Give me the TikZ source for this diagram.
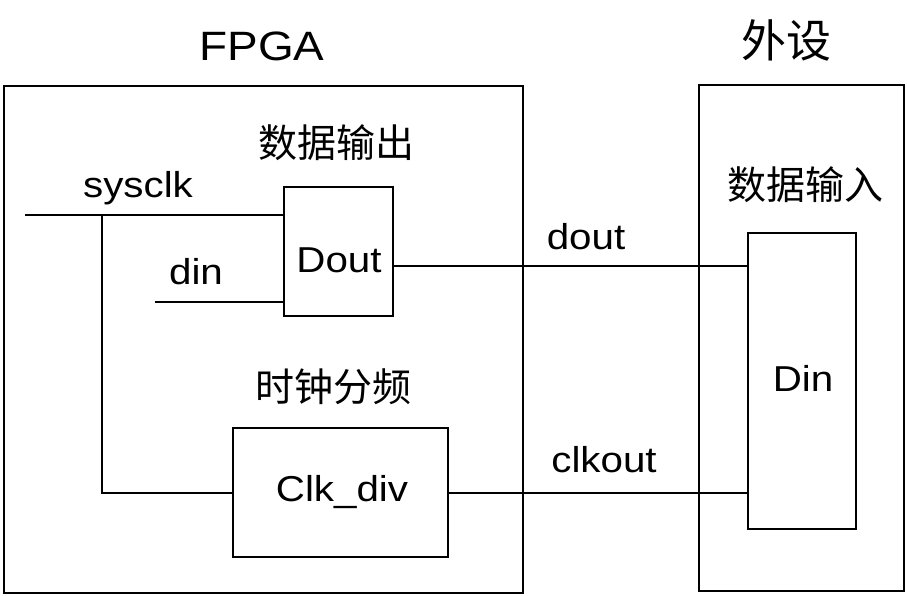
\documentclass[tikz,border=0pt]{standalone}
\usepackage{fontspec}
\setmainfont{Liberation Sans}[FakeStretch=1.12]
\newfontfamily\cjk{Noto Sans CJK SC}
\usetikzlibrary{positioning}

\begin{document}
\begin{tikzpicture}[x=1pt,y=-1pt,line width=2pt,
    blk/.style={draw,inner sep=0pt,anchor=north west},
    sig/.style={font=\fontsize{36}{40}\selectfont,inner sep=0pt},
    hz/.style={font=\cjk\fontsize{39}{44}\selectfont,inner sep=0pt}]
      \useasboundingbox (0,0) rectangle (907,595);
      % boxes
      \node[blk,minimum width=519,minimum height=507] (fpga) at (3,85) {};
      \node[blk,minimum width=205,minimum height=506] (periph) at (698,84) {};
      \node[blk,minimum width=109,minimum height=129] (dout) at (283,186) {};
      \node[blk,minimum width=215,minimum height=129] (clkdiv) at (232,427) {};
      \node[blk,minimum width=108,minimum height=296] (din) at (747,232) {};

      % titles
      \node[sig,font=\fontsize{41}{46}\selectfont] (tfpga) at (262,46) {FPGA};
      \node[hz,font=\cjk\fontsize{45}{50}\selectfont] (tperiph) at (786,40) {外设};
      \node[hz] (tdout) at (336,143) {数据输出};
      \node[hz] (tdin) at (805,185) {数据输入};
      \node[hz] (tclkdiv) at (333,387) {时钟分频};
      \node[sig] (ldout) at (339,260) {Dout};
      \node[sig] (ldin) at (803,378) {Din};
      \node[sig] (lclkdiv) at (342,492) {Clk\_div};

      % wires
      \coordinate (sysclk) at (25,215);
      \coordinate (tap) at (102,215);
      \coordinate (dinw) at (155,302);
      \coordinate (q) at (392,266);
      \draw (sysclk) -- (sysclk -| dout.west);
      \draw (tap) |- (clkdiv.west);
      \draw (dinw) -- (dinw -| dout.west);
      \draw (q) -- (q -| din.west);
      \draw (clkdiv.east) -- (clkdiv.east -| din.west);

      \node[sig] (lsysclk) at (138,188) {sysclk};
      \node[sig] (ldinw) at (196,272) {din};
      \node[sig] (lq) at (586,237) {dout};
      \node[sig] (lclkout) at (604,460) {clkout};
\end{tikzpicture}
\end{document}
